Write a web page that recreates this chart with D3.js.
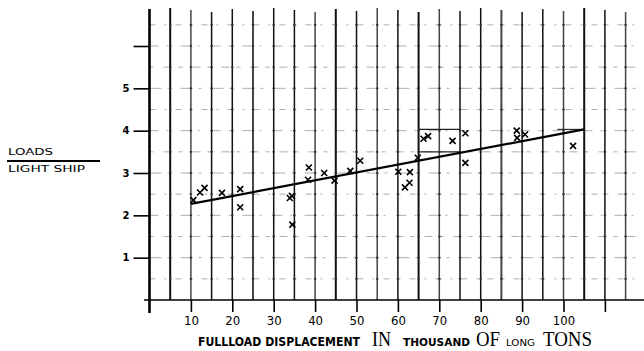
<!DOCTYPE html>
<html>
<head>
<meta charset="utf-8">
<script src="https://cdn.jsdelivr.net/npm/d3@7"></script>
<style>
  body { margin: 0; background: #fff; }
  svg { display: block; }
</style>
</head>
<body>
<svg id="chart" width="644" height="351"></svg>
<script>
// values
const displacement = [10.6, 12.2, 13.3, 17.5, 21.9, 21.9, 33.9, 34.4, 34.5, 38.3, 38.5, 42.2, 44.7, 48.5, 50.9,
  60.1, 62.9, 61.7, 62.8, 64.8, 66.2, 67.3, 73.2, 76.3, 76.3, 88.7, 88.8, 90.7, 102.3];
const loadRatio = [2.36, 2.54, 2.65, 2.53, 2.62, 2.19, 2.41, 2.46, 1.78, 2.84, 3.13, 3.0, 2.82, 3.05, 3.29,
  3.03, 3.02, 2.66, 2.77, 3.36, 3.81, 3.87, 3.76, 3.94, 3.24, 4.0, 3.83, 3.91, 3.64];
const trendX = [10, 105];
const trendY = [2.27, 4.03];
const xTickLabels = [10, 20, 30, 40, 50, 60, 70, 80, 90, 100];
const yTickLabels = ["1", "2", "3", "4", "5", ""];

let svg = d3.select("#chart");

let x = d3.scaleLinear().domain([0, 100]).range([149.5, 563.5]);
let y = d3.scaleLinear().domain([0, 6]).range([300, 46]);

// dashed horizontal grid at every half unit (faint, broken, as in the scan)
let halfSteps = d3.range(0.5, 7, 0.5);
let dashes = ["6,9,2,9", "12,6,3,10", "4,10,8,7", "9,8,2,12"];
svg.append("g")
  .selectAll("line")
  .data(halfSteps)
  .join("line")
  .attr("x1", x(0))
  .attr("x2", 642)
  .attr("y1", d => y(d))
  .attr("y2", d => y(d))
  .attr("stroke", "#999")
  .attr("stroke-width", 0.8)
  .attr("stroke-dasharray", (d, i) => dashes[i % dashes.length]);

// vertical grid every 5 thousand tons
let vSteps = d3.range(5, 120, 5);
svg.append("g")
  .selectAll("line")
  .data(vSteps)
  .join("line")
  .attr("x1", d => x(d))
  .attr("x2", d => x(d))
  .attr("y1", (d, i) => 8 + (i * 7) % 5)
  .attr("y2", y(0))
  .attr("stroke", (d, i) => i % 3 === 1 ? "#444" : "#111")
  .attr("stroke-width", (d, i) => i % 4 === 0 ? 2 : 1.5);

// little knots where grid lines cross
let knots = [];
vSteps.forEach(v => halfSteps.forEach(h => knots.push([v, h])));
svg.append("g")
  .selectAll("rect")
  .data(knots)
  .join("rect")
  .attr("x", d => x(d[0]) - 1.2)
  .attr("y", d => y(d[1]) - 0.8)
  .attr("width", 2.4)
  .attr("height", 1.6)
  .attr("fill", "#333");

// y axis
svg.append("line")
  .attr("x1", x(0)).attr("x2", x(0))
  .attr("y1", 9).attr("y2", 313)
  .attr("stroke", "#000").attr("stroke-width", 2.6);

// x axis
svg.append("line")
  .attr("x1", 144).attr("x2", 644)
  .attr("y1", y(0)).attr("y2", y(0))
  .attr("stroke", "#000").attr("stroke-width", 1.6);

let xAxis = d3.axisBottom(x)
  .tickValues(d3.range(10, 120, 10))
  .tickSize(12)
  .tickFormat(d => xTickLabels.includes(d) ? d : "");
let gx = svg.append("g")
  .attr("transform", "translate(0," + y(0) + ")")
  .call(xAxis);
gx.select(".domain").remove();
gx.selectAll(".tick line").attr("stroke", "#000").attr("stroke-width", 1.6);
gx.selectAll(".tick text")
  .attr("y", 16)
  .attr("dy", "0.71em")
  .style("font-family", "'Liberation Sans Narrow', 'DejaVu Sans Condensed', sans-serif")
  .style("font-size", "13px")
  .attr("fill", "#000");

let yAxis = d3.axisLeft(y)
  .tickValues(d3.range(1, 7))
  .tickSize(16)
  .tickFormat((d, i) => yTickLabels[i]);
let gy = svg.append("g")
  .attr("transform", "translate(" + x(0) + ",0)")
  .call(yAxis);
gy.select(".domain").remove();
gy.selectAll(".tick line").attr("stroke", "#000").attr("stroke-width", 1.6);
gy.selectAll(".tick text")
  .attr("x", -20)
  .style("font-family", "'DejaVu Sans', sans-serif")
  .style("font-weight", "bold")
  .style("font-size", "10px")
  .attr("fill", "#000");

// boxes drawn by hand on the original
let boxes = [[65, 75, 4.03], [65, 75, 3.5], [98.5, 105, 4.03]];
svg.append("g")
  .selectAll("line")
  .data(boxes)
  .join("line")
  .attr("x1", d => x(d[0]))
  .attr("x2", d => x(d[1]))
  .attr("y1", d => y(d[2]))
  .attr("y2", d => y(d[2]))
  .attr("stroke", "#222")
  .attr("stroke-width", 1.1);

// trend line
svg.append("path")
  .datum(d3.zip(trendX, trendY))
  .attr("d", d3.line().x(d => x(d[0])).y(d => y(d[1])))
  .attr("fill", "none")
  .attr("stroke", "#000")
  .attr("stroke-width", 2.2);

// crosses
let s = 3;
svg.append("g")
  .selectAll("path")
  .data(d3.zip(displacement, loadRatio))
  .join("path")
  .attr("d", d => {
    let cx = x(d[0]), cy = y(d[1]);
    return "M" + (cx - s) + "," + (cy - s) + "L" + (cx + s) + "," + (cy + s) +
      "M" + (cx - s) + "," + (cy + s) + "L" + (cx + s) + "," + (cy - s);
  })
  .attr("stroke", "#000")
  .attr("stroke-width", 1.6)
  .attr("fill", "none");

// y label as a fraction
let sans = "'DejaVu Sans', sans-serif";
svg.append("text")
  .attr("x", 8).attr("y", 155)
  .attr("textLength", 45).attr("lengthAdjust", "spacingAndGlyphs")
  .style("font-family", sans).style("font-size", "9.5px")
  .text("LOADS");
svg.append("line")
  .attr("x1", 7).attr("x2", 100)
  .attr("y1", 161).attr("y2", 161)
  .attr("stroke", "#000").attr("stroke-width", 1.8);
svg.append("text")
  .attr("x", 8).attr("y", 172)
  .attr("textLength", 77).attr("lengthAdjust", "spacingAndGlyphs")
  .style("font-family", sans).style("font-size", "9.5px")
  .text("LIGHT SHIP");

// x label, mixed lettering as in the scan
let serif = "'Liberation Serif', 'DejaVu Serif', serif";
let xLabel = [
  {t: "FULLLOAD DISPLACEMENT", x0: 198, w: 162, f: sans, s: 11.5, bold: true},
  {t: "IN", x0: 372, w: 19, f: serif, s: 20, bold: false},
  {t: "THOUSAND", x0: 403, w: 67, f: sans, s: 10.5, bold: true},
  {t: "OF", x0: 476, w: 24, f: serif, s: 20, bold: false},
  {t: "LONG", x0: 506, w: 29, f: sans, s: 8.5, bold: false},
  {t: "TONS", x0: 543, w: 49, f: serif, s: 20, bold: false}
];
svg.append("g")
  .selectAll("text")
  .data(xLabel)
  .join("text")
  .attr("x", d => d.x0)
  .attr("y", 346)
  .attr("textLength", d => d.w)
  .attr("lengthAdjust", "spacingAndGlyphs")
  .style("font-family", d => d.f)
  .style("font-size", d => d.s + "px")
  .style("font-weight", d => d.bold ? "bold" : "normal")
  .text(d => d.t);
</script>
</body>
</html>
